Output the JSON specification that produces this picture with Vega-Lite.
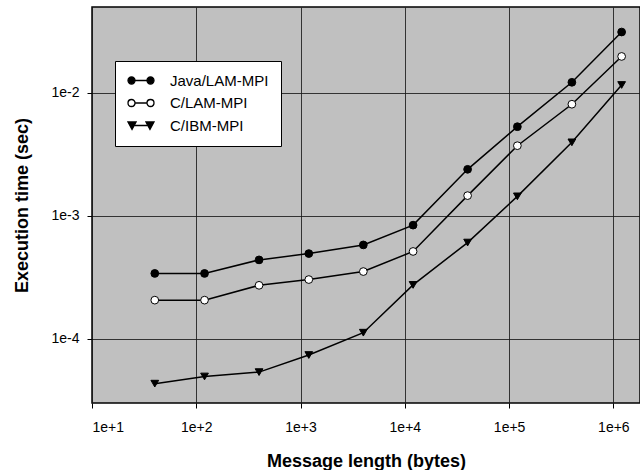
{
  "$schema": "https://vega.github.io/schema/vega-lite/v6.json",
  "width": 548,
  "height": 396,
  "autosize": {"type": "none"},
  "padding": {"left": 92, "top": 7, "right": 0, "bottom": 67},
  "background": "white",
  "config": {
    "font": "Liberation Sans",
    "view": {"fill": "#c0c0c0", "stroke": "black", "strokeWidth": 1.5},
    "legend": {
      "title": null,
      "orient": "none",
      "legendX": 23,
      "legendY": 54,
      "fillColor": "white",
      "strokeColor": "black",
      "padding": 12,
      "clipHeight": 15,
      "rowPadding": 6.5,
      "labelOffset": 15,
      "labelFontSize": 15,
      "labelFont": "Liberation Sans",
      "labelColor": "black",
      "symbolSize": 676,
      "symbolStrokeWidth": 1.3,
      "symbolStrokeColor": "black"
    },
    "axis": {
      "domain": false,
      "grid": true,
      "gridColor": "#1a1a1a",
      "gridWidth": 1,
      "gridOpacity": 0.85,
      "tickColor": "black",
      "tickSize": 5,
      "tickWidth": 1,
      "labelColor": "black",
      "labelFontSize": 14,
      "labelFont": "Liberation Sans",
      "titleFont": "Liberation Sans",
      "titleFontSize": 18,
      "titleFontWeight": "bold",
      "titleColor": "black"
    }
  },
  "data": {
    "values": [
      {"series": "Java/LAM-MPI", "bytes": 40, "time": 0.000340},
      {"series": "Java/LAM-MPI", "bytes": 120, "time": 0.000340},
      {"series": "Java/LAM-MPI", "bytes": 400, "time": 0.000438},
      {"series": "Java/LAM-MPI", "bytes": 1200, "time": 0.000493},
      {"series": "Java/LAM-MPI", "bytes": 4000, "time": 0.000580},
      {"series": "Java/LAM-MPI", "bytes": 12000, "time": 0.000840},
      {"series": "Java/LAM-MPI", "bytes": 40000, "time": 0.00239},
      {"series": "Java/LAM-MPI", "bytes": 120000, "time": 0.00531},
      {"series": "Java/LAM-MPI", "bytes": 400000, "time": 0.0122},
      {"series": "Java/LAM-MPI", "bytes": 1200000, "time": 0.0313},
      {"series": "C/LAM-MPI", "bytes": 40, "time": 0.000206},
      {"series": "C/LAM-MPI", "bytes": 120, "time": 0.000206},
      {"series": "C/LAM-MPI", "bytes": 400, "time": 0.000272},
      {"series": "C/LAM-MPI", "bytes": 1200, "time": 0.000303},
      {"series": "C/LAM-MPI", "bytes": 4000, "time": 0.000352},
      {"series": "C/LAM-MPI", "bytes": 12000, "time": 0.000513},
      {"series": "C/LAM-MPI", "bytes": 40000, "time": 0.00146},
      {"series": "C/LAM-MPI", "bytes": 120000, "time": 0.00372},
      {"series": "C/LAM-MPI", "bytes": 400000, "time": 0.00809},
      {"series": "C/LAM-MPI", "bytes": 1200000, "time": 0.0198},
      {"series": "C/IBM-MPI", "bytes": 40, "time": 0.0000431},
      {"series": "C/IBM-MPI", "bytes": 120, "time": 0.0000493},
      {"series": "C/IBM-MPI", "bytes": 400, "time": 0.0000535},
      {"series": "C/IBM-MPI", "bytes": 1200, "time": 0.0000737},
      {"series": "C/IBM-MPI", "bytes": 4000, "time": 0.000112},
      {"series": "C/IBM-MPI", "bytes": 12000, "time": 0.000274},
      {"series": "C/IBM-MPI", "bytes": 40000, "time": 0.000606},
      {"series": "C/IBM-MPI", "bytes": 120000, "time": 0.00144},
      {"series": "C/IBM-MPI", "bytes": 400000, "time": 0.00396},
      {"series": "C/IBM-MPI", "bytes": 1200000, "time": 0.0116}
    ]
  },
  "encoding": {
    "x": {
      "field": "bytes",
      "type": "quantitative",
      "scale": {"type": "log", "domain": [10, 1800000], "nice": false, "zero": false},
      "axis": {
        "title": "Message length (bytes)",
        "values": [10, 100, 1000, 10000, 100000, 1000000],
        "labelExpr": "'1e' + (datum.value >= 1 ? '+' : '') + round(log(datum.value)/LN10)",
        "labelPadding": 12,
        "titlePadding": 18
      }
    },
    "y": {
      "field": "time",
      "type": "quantitative",
      "scale": {"type": "log", "domain": [0.00003, 0.05], "nice": false, "zero": false},
      "axis": {
        "title": "Execution time (sec)",
        "values": [0.0001, 0.001, 0.01],
        "labelExpr": "'1e' + (datum.value >= 1 ? '+' : '') + round(log(datum.value)/LN10)",
        "labelPadding": 8,
        "titlePadding": 19
      }
    }
  },
  "layer": [
    {
      "mark": {"type": "line", "color": "black", "strokeWidth": 1.5},
      "encoding": {"detail": {"field": "series"}}
    },
    {
      "mark": {"type": "point", "stroke": "black", "strokeWidth": 1, "opacity": 1, "size": 60},
      "encoding": {
        "shape": {
          "field": "series",
          "type": "nominal",
          "scale": {"domain": ["Java/LAM-MPI", "C/LAM-MPI", "C/IBM-MPI"], "range": ["circle", "circle", "triangle-down"]},
          "legend": null
        },
        "fill": {
          "field": "series",
          "type": "nominal",
          "scale": {"domain": ["Java/LAM-MPI", "C/LAM-MPI", "C/IBM-MPI"], "range": ["black", "white", "black"]},
          "legend": null
        }
      }
    },
    {
      "mark": {"type": "point", "strokeWidth": 1.3, "opacity": 1, "size": 0},
      "encoding": {
        "fill": {
          "field": "series",
          "type": "nominal",
          "scale": {"domain": ["Java/LAM-MPI", "C/LAM-MPI", "C/IBM-MPI"], "range": ["black", "white", "black"]}
        },
        "stroke": {
          "field": "series",
          "type": "nominal",
          "scale": {"domain": ["Java/LAM-MPI", "C/LAM-MPI", "C/IBM-MPI"], "range": ["black", "black", "black"]}
        },
        "shape": {
          "field": "series",
          "type": "nominal",
          "scale": {
            "domain": ["Java/LAM-MPI", "C/LAM-MPI", "C/IBM-MPI"],
            "range": [
              "M-0.46,0L0.46,0M-0.46,0C-0.46,0.149 -0.581,0.27 -0.73,0.27C-0.879,0.27 -1,0.149 -1,0C-1,-0.149 -0.879,-0.27 -0.73,-0.27C-0.581,-0.27 -0.46,-0.149 -0.46,0ZM1,0C1,0.149 0.879,0.27 0.73,0.27C0.581,0.27 0.46,0.149 0.46,0C0.46,-0.149 0.581,-0.27 0.73,-0.27C0.879,-0.27 1,-0.149 1,0Z",
              "M-0.46,0L0.46,0M-0.46,0C-0.46,0.15 -0.581,0.27 -0.73,0.27C-0.879,0.27 -1,0.15 -1,0C-1,-0.15 -0.879,-0.27 -0.73,-0.27C-0.581,-0.27 -0.46,-0.15 -0.46,0ZM1,0C1,0.15 0.879,0.27 0.73,0.27C0.581,0.27 0.46,0.15 0.46,0C0.46,-0.15 0.581,-0.27 0.73,-0.27C0.879,-0.27 1,-0.15 1,0Z",
              "M-1,-0.27L-0.38,-0.27L-0.69,0.3ZM-0.69,0L0.69,0M0.38,-0.27L1,-0.27L0.69,0.3Z"
            ]
          }
        }
      }
    }
  ],
  "resolve": {"scale": {"shape": "independent", "fill": "independent", "stroke": "independent"}}
}
